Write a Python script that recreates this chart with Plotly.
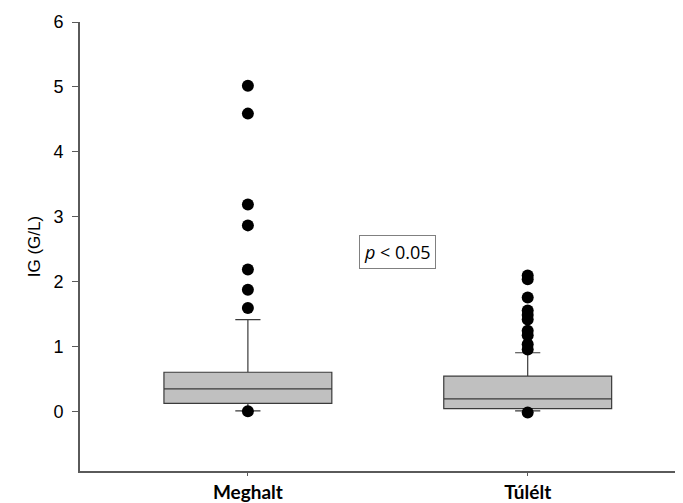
import plotly.graph_objects as go

categories = ["Meghalt", "Túlélt"]
q1 = [0.13, 0.05]
medians = [0.355, 0.20]
q3 = [0.61, 0.55]
lower_fence = [0.015, 0.015]
upper_fence = [1.42, 0.91]

outliers_meghalt = [5.02, 4.59, 3.19, 2.87, 2.19, 1.88, 1.60, 0.01]
outliers_tulelt = [2.10, 2.04, 1.76, 1.56, 1.49, 1.42, 1.25, 1.18, 1.04, 0.96, -0.01]

y_ticks = [0, 1, 2, 3, 4, 5, 6]

fig = go.Figure()

fig.add_trace(go.Box(
    x=categories,
    q1=q1, median=medians, q3=q3,
    lowerfence=lower_fence, upperfence=upper_fence,
    fillcolor="#c0c0c0",
    line=dict(color="#3a3a3a", width=1.2),
    whiskerwidth=0.15,
    width=0.6,
    boxpoints=False,
    hoverinfo="skip",
    showlegend=False,
))

fig.add_trace(go.Scatter(
    x=[categories[0]] * len(outliers_meghalt) + [categories[1]] * len(outliers_tulelt),
    y=outliers_meghalt + outliers_tulelt,
    mode="markers",
    marker=dict(color="black", size=12),
    showlegend=False,
    hoverinfo="skip",
))

fig.add_annotation(
    x=0.535, y=2.46, xref="x", yref="y",
    text="<i>p</i> < 0.05",
    showarrow=False,
    font=dict(family="Open Sans", size=18, color="black"),
    bordercolor="#808080", borderwidth=1, borderpad=4,
    bgcolor="white",
)

fig.update_layout(
    width=675, height=495,
    margin=dict(l=72, r=0, t=14, b=26),
    plot_bgcolor="white", paper_bgcolor="white",
    xaxis=dict(
        type="category",
        range=[-0.6, 1.555],
        showline=True, linecolor="#5a5a5a", linewidth=2,
        ticks="outside", ticklen=3, tickcolor="#5a5a5a",
        showgrid=False, zeroline=False,
        tickfont=dict(family="Lato", size=19, color="black", weight="bold"),
    ),
    yaxis=dict(
        range=[-0.91, 6],
        tickvals=y_ticks,
        showline=True, linecolor="#5a5a5a", linewidth=2,
        ticks="outside", ticklen=6, tickcolor="#5a5a5a",
        ticklabelstandoff=5,
        showgrid=False, zeroline=False,
        tickfont=dict(family="Liberation Sans", size=18, color="black"),
        title=dict(text="IG (G/L)", font=dict(family="Liberation Sans", size=17, color="black"), standoff=8),
    ),
)

fig.write_html("out.html")
